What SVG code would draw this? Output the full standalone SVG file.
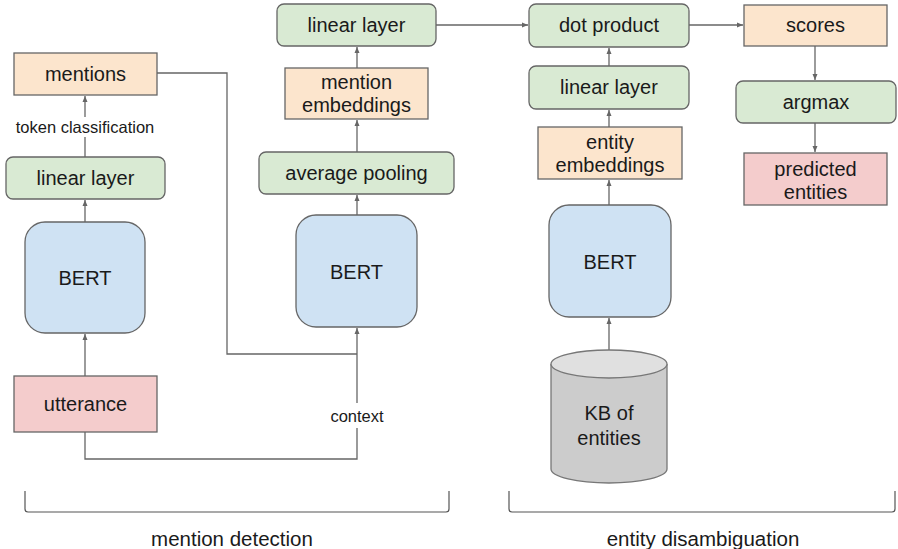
<svg xmlns="http://www.w3.org/2000/svg" width="898" height="549" viewBox="0 0 898 549">
<defs>
<marker id="ah" markerWidth="6" markerHeight="6" refX="6" refY="3" orient="auto" markerUnits="userSpaceOnUse">
<path d="M0,0.5 L6,3 L0,5.5 Z" fill="#666"/>
</marker>
<style>
.g{fill:#d9ead3;stroke:#666;stroke-width:1.3}
.o{fill:#fce5cd;stroke:#666;stroke-width:1.3}
.b{fill:#cfe2f3;stroke:#666;stroke-width:1.3}
.p{fill:#f4cccc;stroke:#666;stroke-width:1.3}
.t{font-family:"Liberation Sans",Arial,sans-serif;font-size:20px;fill:#1a1a1a;text-anchor:middle}
.s{font-family:"Liberation Sans",Arial,sans-serif;font-size:16.5px;fill:#1a1a1a;text-anchor:middle}
.l{font-family:"Liberation Sans",Arial,sans-serif;font-size:20.5px;fill:#1a1a1a;text-anchor:middle}
.c{fill:none;stroke:#666;stroke-width:1.3}
.a{fill:none;stroke:#666;stroke-width:1.3;marker-end:url(#ah)}
.br{fill:none;stroke:#555;stroke-width:1.2}
</style>
</defs>
<g id="connectors">
<path class="a" d="M85,376 V334"/>
<path class="a" d="M85,222 V200"/>
<path class="c" d="M85,157 V137"/>
<path class="a" d="M85,117 V96"/>
<path class="c" d="M157,73 H227 V354 H357"/>
<path class="c" d="M85,432 V459 H357 V428"/>
<path class="a" d="M357,403 V328"/>
<path class="a" d="M357,215 V195"/>
<path class="a" d="M357,152 V120"/>
<path class="a" d="M357,68 V47"/>
<path class="a" d="M436,25 H528"/>
<path class="a" d="M689,25 H743"/>
<path class="a" d="M815,46 V80"/>
<path class="a" d="M815,123 V152"/>
<path class="a" d="M609,66 V48"/>
<path class="a" d="M609,127 V110"/>
<path class="a" d="M609,205 V180"/>
<path class="a" d="M609,350 V318"/>
</g>
<g id="label-token">
<text class="s" x="85" y="133">token classification</text>
</g>
<g id="label-context">
<text class="s" x="357" y="422">context</text>
</g>
<g id="mentions">
<rect class="o" x="14" y="53" width="143" height="42"/>
<text class="t" x="85.5" y="81">mentions</text>
</g>
<g id="linear1">
<rect class="g" x="6" y="157" width="159" height="42" rx="7"/>
<text class="t" x="85.5" y="185">linear layer</text>
</g>
<g id="bert1">
<rect class="b" x="25" y="222" width="120" height="111" rx="20"/>
<text class="t" x="85" y="285">BERT</text>
</g>
<g id="utterance">
<rect class="p" x="14" y="376" width="143" height="56"/>
<text class="t" x="85.5" y="411">utterance</text>
</g>
<g id="linear2">
<rect class="g" x="277" y="4" width="159" height="42" rx="7"/>
<text class="t" x="356.5" y="32">linear layer</text>
</g>
<g id="mention-emb">
<rect class="o" x="285" y="68" width="143" height="51"/>
<text class="t" x="356.5" y="89">mention</text>
<text class="t" x="356.5" y="112">embeddings</text>
</g>
<g id="avgpool">
<rect class="g" x="259" y="152" width="195" height="42" rx="7"/>
<text class="t" x="356.5" y="180">average pooling</text>
</g>
<g id="bert2">
<rect class="b" x="296" y="215" width="121" height="112" rx="20"/>
<text class="t" x="356.5" y="279">BERT</text>
</g>
<g id="dotproduct">
<rect class="g" x="529" y="4" width="160" height="43" rx="7"/>
<text class="t" x="609" y="32">dot product</text>
</g>
<g id="linear3">
<rect class="g" x="529" y="66" width="160" height="43" rx="7"/>
<text class="t" x="609" y="94">linear layer</text>
</g>
<g id="entity-emb">
<rect class="o" x="538" y="127" width="144" height="52"/>
<text class="t" x="610" y="149">entity</text>
<text class="t" x="610" y="172">embeddings</text>
</g>
<g id="bert3">
<rect class="b" x="549" y="205" width="122" height="112" rx="20"/>
<text class="t" x="610" y="269">BERT</text>
</g>
<g id="kb">
<path d="M551,364 V469 A58,14 0 0 0 667,469 V364" fill="#cccccc" stroke="#777" stroke-width="1.3"/>
<ellipse cx="609" cy="364" rx="58" ry="14" fill="#e0e0e0" stroke="#777" stroke-width="1.3"/>
<text class="t" x="609" y="420">KB of</text>
<text class="t" x="609" y="445">entities</text>
</g>
<g id="scores">
<rect class="o" x="744" y="5" width="143" height="41"/>
<text class="t" x="815.5" y="32">scores</text>
</g>
<g id="argmax">
<rect class="g" x="736" y="81" width="160" height="42" rx="7"/>
<text class="t" x="816" y="109">argmax</text>
</g>
<g id="predicted">
<rect class="p" x="744" y="153" width="143" height="52"/>
<text class="t" x="815.5" y="176">predicted</text>
<text class="t" x="815.5" y="199">entities</text>
</g>
<g id="section-mention">
<path class="br" d="M25,491 V509 Q25,512 28,512 H446 Q449,512 449,509 V491"/>
<text class="l" x="232" y="546">mention detection</text>
</g>
<g id="section-entity">
<path class="br" d="M509,491 V509 Q509,512 512,512 H892 Q895,512 895,509 V491"/>
<text class="l" x="703" y="546">entity disambiguation</text>
</g>
</svg>
